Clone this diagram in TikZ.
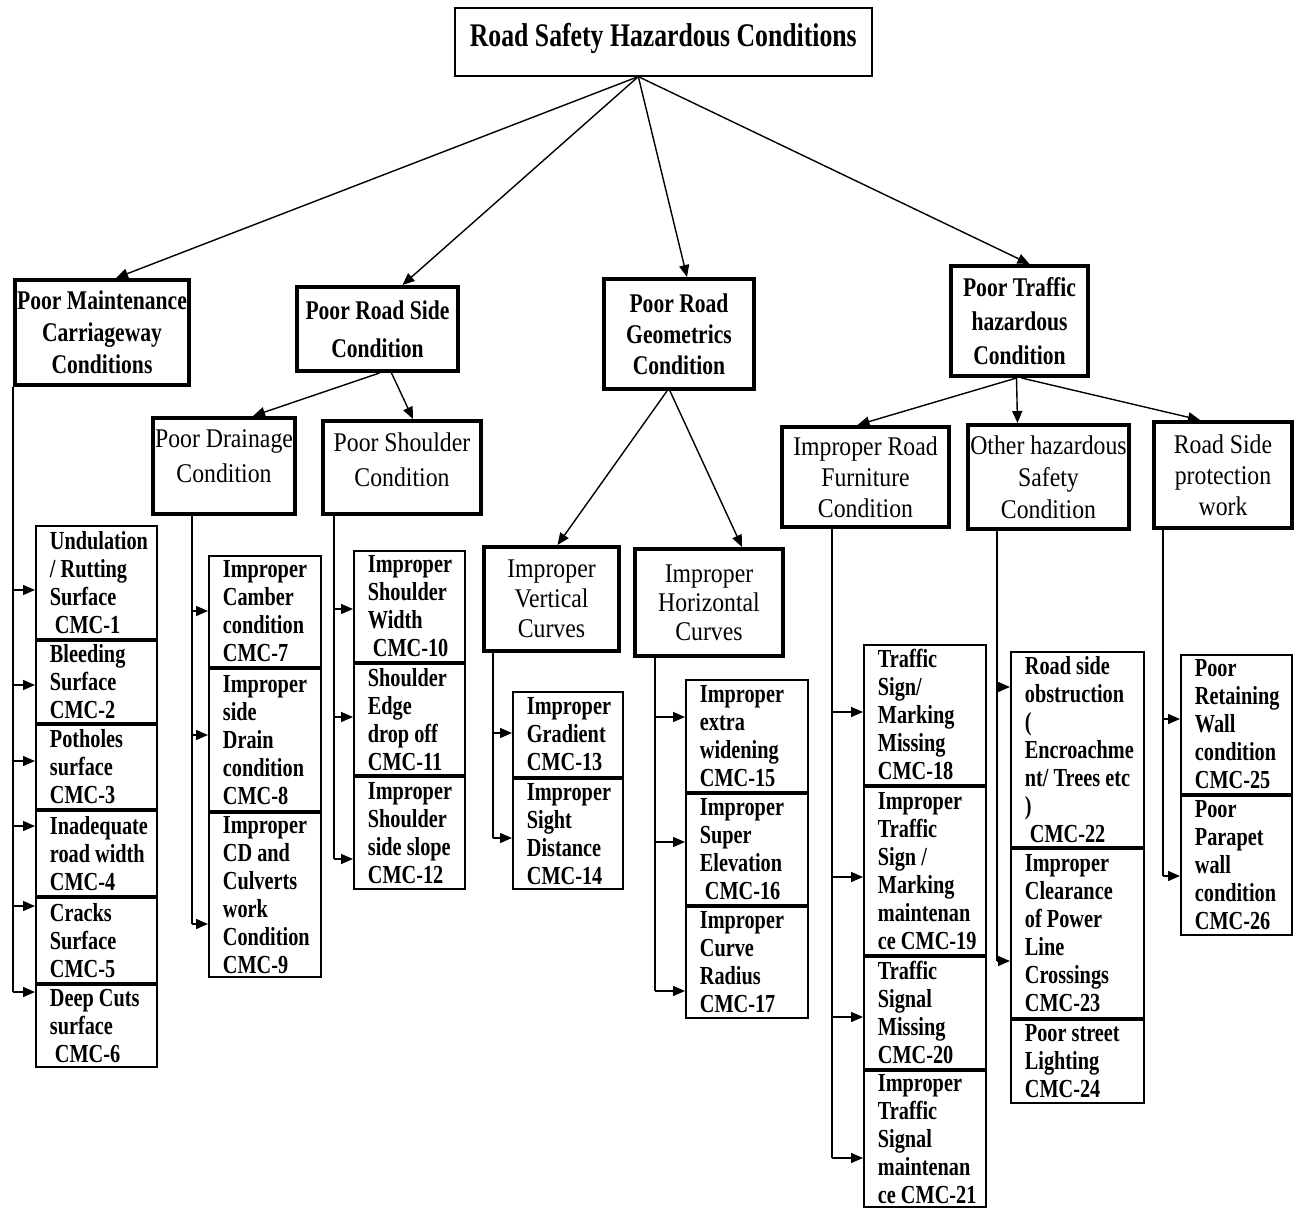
\documentclass[tikz,border=0pt]{standalone}
\usepackage{fontspec}
\setmainfont{Liberation Serif}[FakeStretch=0.78]
\newfontfamily\regf{Liberation Serif}[FakeStretch=0.88]
\newfontfamily\lvlf{Liberation Serif}[FakeStretch=0.80]
\usetikzlibrary{arrows.meta,calc}
\begin{document}
\begin{tikzpicture}[x=1pt,y=-1pt,
 conn/.style={line width=1.4pt},
 arr/.style={conn,-{Triangle[length=12pt,width=10pt]}},
 lvl/.style={draw, line width=4pt, anchor=north west, inner sep=0pt, align=center},
 lvlone/.style={lvl, font=\lvlf\bfseries\fontsize{27}{32}\selectfont},
 lvltwo/.style={lvl, font=\regf\fontsize{27}{31}\selectfont},
 leaf/.style={draw, line width=1.8pt, anchor=north west, inner sep=0pt, align=flush left, font=\bfseries\fontsize{26}{28}\selectfont},
 colA/.style={leaf, minimum width=121pt, text width=93pt},
 colB/.style={leaf, minimum width=112pt, text width=84pt},
 colC/.style={leaf, minimum width=111pt, text width=83pt},
 colD/.style={leaf, minimum width=110pt, text width=82pt},
 colE/.style={leaf, minimum width=122pt, text width=94pt},
 colF/.style={leaf, minimum width=122pt, text width=94pt},
 colG/.style={leaf, minimum width=133pt, text width=105pt},
 colH/.style={leaf, minimum width=111pt, text width=83pt}
]
\fill[white] (0,0) rectangle (1301,1209);
\useasboundingbox (0,0) rectangle (1301,1209);

% title
\node[draw, line width=1.6pt, anchor=north west, inner sep=0pt, minimum width=417pt, minimum height=68pt,
  text depth=13pt, font=\bfseries\fontsize{33}{36}\selectfont] (root) at (454,7) {Road Safety Hazardous Conditions};

% level 1
\node[lvlone, minimum width=174pt, minimum height=105pt] (m) at (13,278) {Poor Maintenance\\Carriageway\\Conditions};
\node[lvlone, minimum width=161pt, minimum height=84pt, font=\lvlf\bfseries\fontsize{27}{38}\selectfont] (rs) at (295,285) {Poor Road Side\\Condition};
\node[lvlone, minimum width=150pt, minimum height=110pt, font=\lvlf\bfseries\fontsize{27}{31}\selectfont] (g) at (602,277) {Poor Road\\Geometrics\\Condition};
\node[lvlone, minimum width=137pt, minimum height=110pt, font=\lvlf\bfseries\fontsize{27}{34}\selectfont] (t) at (949,264) {Poor Traffic\\hazardous\\Condition};

% level 2
\node[lvltwo, minimum width=142pt, minimum height=96pt, font=\regf\fontsize{27}{35}\selectfont] (dr) at (151,416) {Poor Drainage\\Condition\\[-15pt]\mbox{}};
\node[lvltwo, minimum width=158pt, minimum height=93pt, font=\regf\fontsize{27}{35}\selectfont] (sh) at (321,419) {Poor Shoulder\\Condition\\[-20pt]\mbox{}};
\node[lvltwo, minimum width=135pt, minimum height=104pt, font=\regf\fontsize{27}{30}\selectfont] (vc) at (482,545) {Improper\\Vertical\\Curves};
\node[lvltwo, minimum width=148pt, minimum height=107pt, font=\regf\fontsize{27}{29}\selectfont] (hc) at (633,547) {Improper\\Horizontal\\Curves};
\node[lvltwo, minimum width=167pt, minimum height=100pt] (fu) at (780,425) {Improper Road\\Furniture\\Condition};
\node[lvltwo, minimum width=161pt, minimum height=104pt, font=\regf\fontsize{27}{32}\selectfont] (ot) at (966,423) {Other hazardous\\Safety\\Condition};
\node[lvltwo, minimum width=138pt, minimum height=106pt] (rp) at (1152,420) {Road Side\\protection\\work};

% connectors from title and level 1
\draw[arr] ($(root.south)+(-25,0)$) -- ($(m.north)+(14,0)$);
\draw[arr] ($(root.south)+(-25,0)$) -- ($(rs.north)+(25,0)$);
\draw[arr] ($(root.south)+(-25,0)$) -- ($(g.north)+(8,0)$);
\draw[arr] ($(root.south)+(-25,0)$) -- ($(t.north)+(10,0)$);
\draw[arr] ($(rs.south)+(2,0)$) -- ($(dr.north)+(29,0)$);
\draw[arr] ($(rs.south)+(14,0)$) -- ($(sh.north)+(11,0)$);
\draw[arr] ($(g.south)+(-12,0)$) -- ($(vc.north)+(6,0)$);
\draw[arr] ($(g.south)+(-9,0)$) -- ($(hc.north)+(33,0)$);
\draw[arr] ($(t.south)+(-3,0)$) -- ($(fu.north)+(-8,0)$);
\draw[arr] ($(t.south)+(-3,0)$) -- ($(ot.north)+(-31,0)$);
\draw[arr] ($(t.south)+(2,0)$) -- ($(rp.north)+(-23,0)$);

% leaves: column A
\node[colA, minimum height=113pt] (c1) at (35,525) {Undulation\\\mbox{/ Rutting}\\Surface\\\hspace*{5pt}CMC-1};
\node[colA, minimum height=82pt] (c2) at (35,640) {Bleeding\\Surface\\CMC-2};
\node[colA, minimum height=84pt] (c3) at (35,724) {Potholes\\surface\\CMC-3};
\node[colA, minimum height=85pt] (c4) at (35,810) {Inadequate\\\mbox{road width}\\CMC-4};
\node[colA, minimum height=85pt] (c5) at (35,897) {Cracks\\Surface\\CMC-5};
\node[colA, minimum height=82pt] (c6) at (35,984) {\mbox{Deep Cuts}\\surface\\\hspace*{5pt}CMC-6};
% column B
\node[colB, minimum height=111pt] (c7) at (208,555) {Improper\\Camber\\condition\\CMC-7};
\node[colB, minimum height=142pt] (c8) at (208,668) {Improper\\side\\Drain\\condition\\CMC-8};
\node[colB, minimum height=164pt] (c9) at (208,812) {Improper\\\mbox{CD and}\\Culverts\\work\\Condition\\CMC-9};
% column C
\node[colC, minimum height=111pt] (c10) at (353,550) {Improper\\Shoulder\\Width\\\hspace*{5pt}CMC-10};
\node[colC, minimum height=111pt] (c11) at (353,663) {Shoulder\\Edge\\\mbox{drop off}\\CMC-11};
\node[colC, minimum height=112pt] (c12) at (353,776) {Improper\\Shoulder\\\mbox{side slope}\\CMC-12};
% column D
\node[colD, minimum height=85pt] (c13) at (512,691) {Improper\\Gradient\\CMC-13};
\node[colD, minimum height=110pt] (c14) at (512,778) {Improper\\Sight\\Distance\\CMC-14};
% column E
\node[colE, minimum height=112pt] (c15) at (685,679) {Improper\\extra\\widening\\CMC-15};
\node[colE, minimum height=111pt] (c16) at (685,793) {Improper\\Super\\Elevation\\\hspace*{5pt}CMC-16};
\node[colE, minimum height=111pt] (c17) at (685,906) {Improper\\Curve\\Radius\\CMC-17};
% column F
\node[colF, minimum height=140pt] (c18) at (863,644) {Traffic\\Sign/\\Marking\\Missing\\CMC-18};
\node[colF, minimum height=168pt] (c19) at (863,786) {Improper\\Traffic\\\mbox{Sign /}\\Marking\\maintenan\\\mbox{ce CMC-19}};
\node[colF, minimum height=112pt] (c20) at (863,956) {Traffic\\Signal\\Missing\\CMC-20};
\node[colF, minimum height=136pt] (c21) at (863,1070) {Improper\\Traffic\\Signal\\maintenan\\\mbox{ce CMC-21}};
% column G
\node[colG, minimum height=195pt] (c22) at (1010,651) {\mbox{Road side}\\obstruction\\(\\Encroachme\\\mbox{nt/ Trees etc}\\)\\\hspace*{5pt}CMC-22};
\node[colG, minimum height=169pt] (c23) at (1010,848) {Improper\\Clearance\\\mbox{of Power}\\Line\\Crossings\\CMC-23};
\node[colG, minimum height=83pt] (c24) at (1010,1019) {\mbox{Poor street}\\Lighting\\CMC-24};
% column H
\node[colH, minimum height=139pt] (c25) at (1180,654) {Poor\\Retaining\\Wall\\condition\\CMC-25};
\node[colH, minimum height=139pt] (c26) at (1180,795) {Poor\\Parapet\\wall\\condition\\CMC-26};

% arrow start points on trunks
\coordinate (a1) at (13,590);
\coordinate (a2) at (13,685);
\coordinate (a3) at (13,761);
\coordinate (a4) at (13,826);
\coordinate (a5) at (13,906);
\coordinate (a6) at (13,992);
\coordinate (a7) at (192,611);
\coordinate (a8) at (192,735);
\coordinate (a9) at (192,924);
\coordinate (a10) at (334,609);
\coordinate (a11) at (334,717);
\coordinate (a12) at (334,859);
\coordinate (a13) at (493,733);
\coordinate (a14) at (493,838);
\coordinate (a15) at (655,717);
\coordinate (a16) at (655,842);
\coordinate (a17) at (655,991);
\coordinate (a18) at (832,712);
\coordinate (a19) at (832,877);
\coordinate (a20) at (832,1017);
\coordinate (a21) at (832,1158);
\coordinate (a22) at (997,687);
\coordinate (a23) at (997,961);
\coordinate (a25) at (1163,719);
\coordinate (a26) at (1163,876);

% trunks
\draw[conn] (m.south west) -- (a6);
\draw[conn] (dr.south -| a7) -- (a9);
\draw[conn] (sh.south -| a10) -- (a12);
\draw[conn] (vc.south -| a13) -- (a14);
\draw[conn] (hc.south -| a15) -- (a17);
\draw[conn] (fu.south -| a18) -- (a21);
\draw[conn] (ot.south -| a22) -- (a23);
\draw[conn] (rp.south -| a25) -- (a26);

% branch arrows
\foreach \i in {1,...,23,25,26} {
  \draw[arr] (a\i) -- (c\i.west |- a\i);
}
\end{tikzpicture}
\end{document}
